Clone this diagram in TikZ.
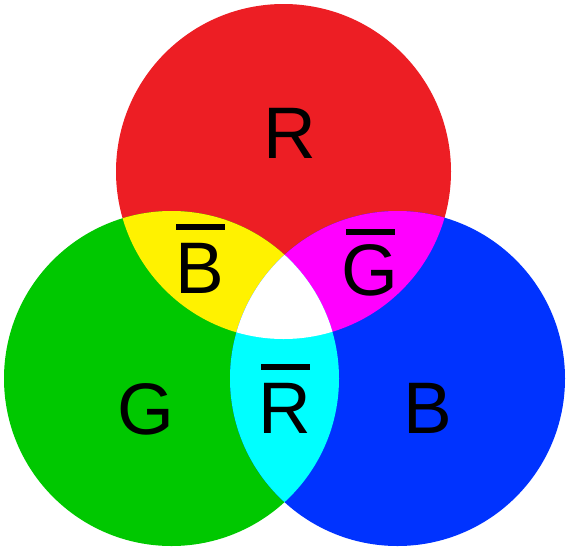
\documentclass[tikz,border=0pt]{standalone}
\usepackage{fontspec}
\setmainfont{Liberation Sans}
\definecolor{cR}{RGB}{237,30,36}
\definecolor{cG}{RGB}{0,200,0}
\definecolor{cB}{RGB}{0,51,255}
\definecolor{cY}{RGB}{255,242,0}
\definecolor{cM}{RGB}{255,0,255}
\definecolor{cC}{RGB}{0,255,255}
\newcommand\ovl[2][69]{\setbox0\hbox{#2}\hbox{\rlap{\hbox to\wd0{\hss\vrule width 49pt height #1pt depth -\numexpr#1-6\relax pt\hss}}\box0}}
\begin{document}
\begin{tikzpicture}[x=1pt,y=-1pt,
  lbl/.style={font=\fontsize{73}{80}\selectfont, anchor=base, inner sep=0pt, text=black}]
\useasboundingbox (0,0) rectangle (567,549);
\def\rr{167.5}
\coordinate (Rc) at (283.5,171.5);
\coordinate (Gc) at (171.5,378.5);
\coordinate (Bc) at (397.5,378.5);
\fill[cR] (Rc) circle (\rr);
\fill[cG] (Gc) circle (\rr);
\fill[cB] (Bc) circle (\rr);
\begin{scope}\clip (Rc) circle (\rr); \fill[cY] (Gc) circle (\rr);\end{scope}
\begin{scope}\clip (Rc) circle (\rr); \fill[cM] (Bc) circle (\rr);\end{scope}
\begin{scope}\clip (Gc) circle (\rr); \fill[cC] (Bc) circle (\rr);\end{scope}
\begin{scope}\clip (Rc) circle (\rr); \clip (Gc) circle (\rr); \fill[white] (Bc) circle (\rr);\end{scope}
\node[lbl] (r) at (290,158) {R};
\node[lbl] (nb) at (200,293) {\ovl{B}};
\node[lbl] (ng) at (370,295) {\ovl[66]{G}};
\node[lbl] (g) at (145.5,434) {G};
\node[lbl] (nr) at (285,433) {\ovl{R}};
\node[lbl] (b) at (427.5,433) {B};
\end{tikzpicture}
\end{document}
